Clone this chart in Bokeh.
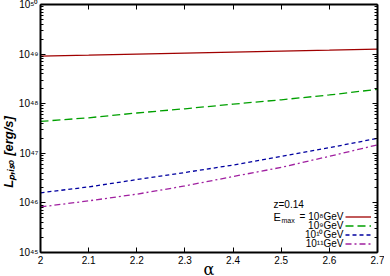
from bokeh.plotting import figure
from bokeh.models import (LinearAxis, LogAxis, Label, Legend, LegendItem, FixedTicker,
                          CustomJSTickFormatter, Range1d)
from bokeh.embed import file_html
from bokeh.resources import INLINE

# ---- data ----
alpha = [2.0, 2.1, 2.2, 2.3, 2.4, 2.5, 2.6, 2.7]
L_e8 = [9.1e48, 9.5e48, 1.0e49, 1.05e49, 1.1e49, 1.15e49, 1.2e49, 1.26e49]
L_e9 = [4.4e47, 5.2e47, 6.5e47, 7.9e47, 9.8e47, 1.2e48, 1.5e48, 1.95e48]
L_e10 = [1.6e46, 2.1e46, 2.95e46, 4.1e46, 5.8e46, 8.7e46, 1.3e47, 2.0e47]
L_e11 = [8.3e45, 1.1e46, 1.5e46, 2.2e46, 3.4e46, 5.2e46, 8.7e46, 1.48e47]
series_labels = ["10\u2078GeV", "10\u2079GeV", "10\u00b9\u2070GeV", "10\u00b9\u00b9GeV"]
x_ticks = [2.0, 2.1, 2.2, 2.3, 2.4, 2.5, 2.6, 2.7]
y_ticks = [1e45, 1e46, 1e47, 1e48, 1e49, 1e50]
redshift_label = "z=0.14"
x_title = "\u03b1"
y_title = "L\u209a,\u1d62\u209b\u2092 [erg/s]"

FONT = "Liberation Sans"
colors = ["#a00000", "#00a000", "#0000a0", "#a020a0"]
dashes = ["solid", "8 4", "4 3", "6 3 2 3"]

y_minor = [m * t for t in y_ticks[:-1] for m in range(2, 10)]

p = figure(width=387, height=285, output_backend="svg", toolbar_location=None,
           y_axis_type="log", x_range=Range1d(2.0, 2.7), y_range=Range1d(1e45, 1e50),
           min_border_left=38, min_border_right=7, min_border_top=8, min_border_bottom=0,
           background_fill_color="white", border_fill_color="white",
           styles={"margin-top": "-4px", "margin-left": "-3px",
                   "margin-right": "-6px", "margin-bottom": "-10px"})
p.outline_line_color = None
p.grid.visible = False

sup_js = """
const s = {'0':'\u2070','1':'\u00b9','2':'\u00b2','3':'\u00b3','4':'\u2074','5':'\u2075','6':'\u2076','7':'\u2077','8':'\u2078','9':'\u2079','-':'\u207b'};
const e = Math.round(Math.log10(tick)).toString();
let out = '10';
for (const c of e) out += s[c];
return out;
"""
xfmt_js = "let t = tick.toFixed(1); if (t.endsWith('.0')) t = t.slice(0, -2); return t;"
blank_js = "return '';"

def style_axis(ax, labels=True):
    ax.axis_line_width = 2
    ax.axis_line_color = "black"
    ax.major_tick_in = 5
    ax.major_tick_out = 0
    ax.minor_tick_in = 3
    ax.minor_tick_out = 0
    ax.major_tick_line_color = "black"
    ax.minor_tick_line_color = "black"
    ax.major_label_text_font = FONT
    ax.major_label_text_font_size = "10px"
    ax.major_label_text_color = "black"
    if not labels:
        ax.major_label_standoff = 0
        ax.major_label_text_font_size = "0px"

# bottom x axis
xb = p.xaxis[0]
xb.ticker = FixedTicker(ticks=x_ticks, minor_ticks=[])
xb.formatter = CustomJSTickFormatter(code=xfmt_js)
style_axis(xb)
xb.major_label_standoff = 3
xb.axis_label = x_title
xb.axis_label_text_font = "DejaVu Serif"
xb.axis_label_text_font_size = "16px"
xb.axis_label_text_font_style = "normal"
xb.axis_label_standoff = -7
xb.axis_label_text_color = "black"

# left y axis
yl = p.yaxis[0]
yl.ticker = FixedTicker(ticks=y_ticks, minor_ticks=y_minor)
yl.formatter = CustomJSTickFormatter(code=sup_js)
style_axis(yl)
yl.major_label_text_font_size = "10px"
yl.major_label_standoff = 2
yl.axis_label = y_title + "\u00a0" * 13
yl.axis_label_text_font = FONT
yl.axis_label_text_font_size = "13px"
yl.axis_label_text_font_style = "bold italic"
yl.axis_label_standoff = 0
yl.axis_label_text_color = "black"

# mirrored top / right axes
xt = LinearAxis(ticker=FixedTicker(ticks=x_ticks, minor_ticks=[]),
                formatter=CustomJSTickFormatter(code=blank_js))
style_axis(xt, labels=False)
p.add_layout(xt, "above")
yr = LogAxis(ticker=FixedTicker(ticks=y_ticks, minor_ticks=y_minor),
             formatter=CustomJSTickFormatter(code=blank_js))
style_axis(yr, labels=False)
p.add_layout(yr, "right")

renderers = []
for ys, c, d in zip([L_e8, L_e9, L_e10, L_e11], colors, dashes):
    r = p.line(alpha, ys, line_color=c, line_width=1.3, line_dash=d)
    renderers.append(r)

legend = Legend(items=[LegendItem(label=" ", renderers=[r]) for r in renderers],
                location=(305, 4), orientation="vertical",
                glyph_width=26, glyph_height=9, label_height=9, label_width=1,
                label_standoff=0, spacing=0, padding=0, margin=0,
                label_text_font_size="8px",
                border_line_color=None, background_fill_alpha=0)
p.add_layout(legend)

# legend texts
p.add_layout(Label(x=233, y=48, x_units="screen", y_units="screen", text=redshift_label,
                   text_font=FONT, text_font_size="10px", text_align="left",
                   text_baseline="middle", text_color="black"))
row_y = [36, 27, 18, 9]
for i, (lab, yy) in enumerate(zip(series_labels, row_y)):
    txt = ("= " + lab) if i == 0 else lab
    p.add_layout(Label(x=303, y=yy, x_units="screen", y_units="screen", text=txt,
                       text_font=FONT, text_font_size="10px", text_align="right",
                       text_baseline="middle", text_color="black"))
p.add_layout(Label(x=233, y=36, x_units="screen", y_units="screen", text="E",
                   text_font=FONT, text_font_size="11px", text_align="left",
                   text_baseline="middle", text_color="black"))
p.add_layout(Label(x=241, y=32, x_units="screen", y_units="screen", text="max",
                   text_font=FONT, text_font_size="7px", text_align="left",
                   text_baseline="middle", text_color="black"))

open("out.html", "w").write(file_html(p, INLINE))
